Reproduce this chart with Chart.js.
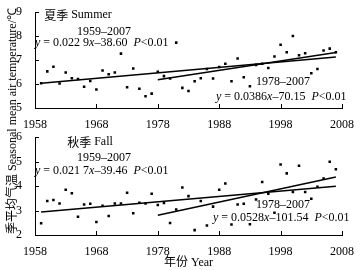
<!DOCTYPE html>
<html>
<head>
<meta charset="utf-8">
<script src="https://cdn.jsdelivr.net/npm/chart.js@4"></script>
<style>
  html, body { margin: 0; padding: 0; background: #fff; }
  #wrap { position: relative; width: 360px; height: 270px; overflow: hidden; }
  #wrap canvas { position: absolute; left: 0; }
  #ytitle {
    position: absolute; left: -111px; top: 114px; width: 240px; height: 14px;
    line-height: 14px; text-align: center; white-space: nowrap;
    transform: rotate(-90deg); transform-origin: 50% 50%;
    font: 12px "Liberation Serif", serif; color: #000;
  }
  #ytitle .cjk { font-family: "Noto Sans CJK SC", sans-serif; }
</style>
</head>
<body>
<div id="wrap">
  <canvas id="summer-chart" width="360" height="135" style="top:0"></canvas>
  <canvas id="fall-chart" width="360" height="145" style="top:125px"></canvas>
  <div id="ytitle"><span class="cjk">季平均气温</span> Seasonal mean air temperature/℃</div>
</div>
<script>
// years of observation
const years = [1959, 1960, 1961, 1962, 1963, 1964, 1965, 1966, 1967, 1968,
  1969, 1970, 1971, 1972, 1973, 1974, 1975, 1976, 1977, 1978,
  1979, 1980, 1981, 1982, 1983, 1984, 1985, 1986, 1987, 1988,
  1989, 1990, 1991, 1992, 1993, 1994, 1995, 1996, 1997, 1998,
  1999, 2000, 2001, 2002, 2003, 2004, 2005, 2006, 2007];

// seasonal mean air temperature
const summerTemp = [6.03, 6.53, 6.72, 6.02, 6.48, 6.24, 6.21, 5.89, 6.13, 5.77,
  6.57, 6.41, 6.48, 7.27, 5.87, 6.65, 5.80, 5.49, 5.60, 6.51,
  6.33, 6.23, 7.73, 5.84, 5.71, 6.12, 6.24, 6.63, 6.23, 6.71,
  6.85, 6.12, 7.07, 6.28, 5.91, 6.80, 6.85, 6.67, 7.15, 7.64,
  7.33, 8.01, 7.20, 7.29, 6.45, 6.63, 7.40, 7.48, 7.33];
const fallTemp = [2.48, 3.39, 3.43, 3.29, 3.85, 3.71, 2.75, 3.25, 3.28, 2.53,
  3.20, 2.78, 3.29, 3.29, 3.73, 2.89, 3.32, 3.29, 3.69, 3.23,
  3.31, 2.49, 3.04, 3.94, 3.59, 2.20, 3.39, 2.39, 3.16, 3.85,
  4.11, 2.43, 3.25, 3.28, 2.44, 3.45, 4.17, 3.69, 2.91, 4.88,
  4.52, 3.76, 4.83, 3.76, 3.48, 3.97, 4.31, 5.00, 4.69];

// trend line end points [start year, end year], [start value, end value]
const summerTrendAll = { x: [1959, 2007], y: [6.03, 7.13] };
const summerTrendRecent = { x: [1978, 2007], y: [6.18, 7.32] };
const fallTrendAll = { x: [1959, 2007], y: [2.94, 3.99] };
const fallTrendRecent = { x: [1978, 2007], y: [2.81, 4.37] };

const xTicks = [1958, 1968, 1978, 1988, 1998, 2008];
const summerYTicks = [5, 6, 7, 8, 9];
const fallYTicks = [2, 3, 4, 5, 6];

const SERIF = '"Liberation Serif", "DejaVu Serif", serif';
const CJK = '"Noto Sans CJK SC", sans-serif';

function toPoints(xs, ys) {
  return xs.map((x, i) => ({ x: x, y: ys[i] }));
}

// draw mixed-style text runs: [text, italic?, cjk?]
function drawRuns(ctx, runs, x, y, align) {
  let total = 0;
  const fonts = runs.map(r => (r[1] ? 'italic ' : '') + '12px ' + (r[2] ? CJK : SERIF));
  runs.forEach((r, i) => { ctx.font = fonts[i]; total += ctx.measureText(r[0]).width; });
  let cx = align === 'center' ? x - total / 2 : x;
  ctx.textBaseline = 'middle';
  ctx.textAlign = 'left';
  runs.forEach((r, i) => {
    ctx.font = fonts[i];
    ctx.fillText(r[0], cx, y);
    cx += ctx.measureText(r[0]).width;
  });
}

// ticks pointing into the plot + text notes
const notesPlugin = {
  id: 'notes',
  afterDraw(chart, args, opts) {
    const ctx = chart.ctx;
    const xs = chart.scales.x, ys = chart.scales.y;
    ctx.save();
    ctx.strokeStyle = '#000';
    ctx.lineWidth = 1;
    ctx.beginPath();
    xs.ticks.forEach(t => {
      const px = Math.round(xs.getPixelForValue(t.value)) + 0.5;
      ctx.moveTo(px, ys.bottom);
      ctx.lineTo(px, ys.bottom - 4);
    });
    ys.ticks.forEach(t => {
      const py = Math.round(ys.getPixelForValue(t.value)) + 0.5;
      ctx.moveTo(xs.left, py);
      ctx.lineTo(xs.left + 4, py);
    });
    ctx.stroke();
    ctx.fillStyle = '#000';
    (opts.items || []).forEach(it => {
      drawRuns(ctx, it.runs, it.x, it.y, it.align);
    });
    ctx.restore();
  }
};

function makeChart(canvasId, values, trendAll, trendRecent, yTicks, notes, cfg) {
  const canvas = document.getElementById(canvasId);
  const ctx = canvas.getContext('2d');
  return new Chart(ctx, {
    type: 'scatter',
    data: {
      datasets: [
        {
          data: toPoints(years, values),
          pointStyle: 'rect',
          pointRadius: 1.8,
          pointBackgroundColor: '#000',
          pointBorderWidth: 0,
          showLine: false
        },
        {
          data: toPoints(trendAll.x, trendAll.y),
          showLine: true,
          borderColor: '#000',
          borderWidth: 1.5,
          pointRadius: 0
        },
        {
          data: toPoints(trendRecent.x, trendRecent.y),
          showLine: true,
          borderColor: '#000',
          borderWidth: 1.5,
          pointRadius: 0
        }
      ]
    },
    options: {
      responsive: false,
      animation: false,
      layout: { padding: { top: cfg.top, right: 18, left: 0, bottom: 0 } },
      plugins: {
        legend: { display: false },
        tooltip: { enabled: false },
        notes: { items: notes }
      },
      scales: {
        x: {
          type: 'linear',
          min: 1958,
          max: 2008,
          afterBuildTicks: s => { s.ticks = xTicks.map(v => ({ value: v })); },
          afterFit: s => { s.height = cfg.xHeight; },
          grid: { display: false },
          border: { display: true, color: '#000', width: 1 },
          ticks: {
            color: '#000',
            font: { family: SERIF, size: 12 },
            padding: 2,
            maxRotation: 0,
            callback: v => String(v)
          },
          title: cfg.xTitle ? {
            display: true,
            text: '年份 Year',
            color: '#000',
            font: { family: '"Liberation Serif", "Noto Sans CJK SC", serif', size: 12 },
            padding: { top: 2, bottom: 0 }
          } : { display: false }
        },
        y: {
          min: yTicks[0],
          max: yTicks[yTicks.length - 1],
          afterBuildTicks: s => { s.ticks = yTicks.map(v => ({ value: v })); },
          afterFit: s => { s.width = 35; },
          grid: { display: false },
          border: { display: true, color: '#000', width: 1 },
          ticks: {
            color: '#000',
            font: { family: SERIF, size: 12 },
            padding: 5
          }
        }
      }
    },
    plugins: [notesPlugin]
  });
}

const summerNotes = [
  { runs: [['夏季', false, true], [' Summer', false, false]], x: 78, y: 15, align: 'center' },
  { runs: [['1959–2007', false, false]], x: 104, y: 32, align: 'center' },
  { runs: [['y', true], [' = 0.022 9', false], ['x', true], ['–38.60  ', false], ['P', true], ['<0.01', false]], x: 35, y: 43, align: 'left' },
  { runs: [['1978–2007', false, false]], x: 283, y: 82, align: 'center' },
  { runs: [['y', true], [' = 0.0386', false], ['x', true], ['–70.15  ', false], ['P', true], ['<0.01', false]], x: 216, y: 97, align: 'left' }
];
const fallNotes = [
  { runs: [['秋季', false, true], [' Fall', false, false]], x: 90, y: 17, align: 'center' },
  { runs: [['1959–2007', false, false]], x: 104, y: 33, align: 'center' },
  { runs: [['y', true], [' = 0.021 7', false], ['x', true], ['–39.46  ', false], ['P', true], ['<0.01', false]], x: 35, y: 46, align: 'left' },
  { runs: [['1978–2007', false, false]], x: 283, y: 80, align: 'center' },
  { runs: [['y', true], [' = 0.0528', false], ['x', true], ['–101.54  ', false], ['P', true], ['<0.01', false]], x: 213, y: 93, align: 'left' }
];

makeChart('summer-chart', summerTemp, summerTrendAll, summerTrendRecent, summerYTicks, summerNotes,
  { top: 8, xHeight: 27, xTitle: false });
makeChart('fall-chart', fallTemp, fallTrendAll, fallTrendRecent, fallYTicks, fallNotes,
  { top: 10, xHeight: 35, xTitle: true });
</script>
</body>
</html>
